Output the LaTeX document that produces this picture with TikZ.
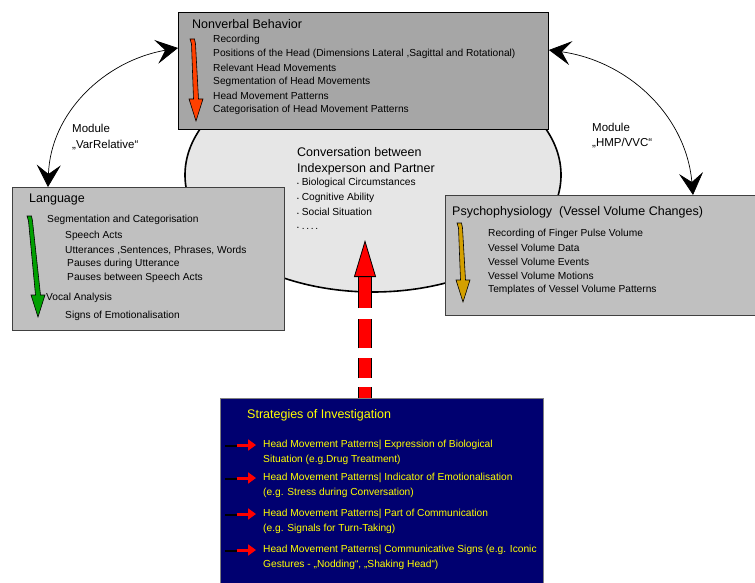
\documentclass[tikz,border=0pt]{standalone}
\usepackage{fontspec}
\setmainfont{Liberation Sans}
\usetikzlibrary{arrows.meta, shapes.geometric, positioning, calc}
\definecolor{PanelGray}{RGB}{166,166,166}
\definecolor{LightPanel}{RGB}{192,192,192}
\definecolor{CloudGray}{RGB}{230,230,230}
\definecolor{DeepNavy}{RGB}{0,0,112}
\definecolor{SignalRed}{RGB}{255,0,0}
\definecolor{FlowOrange}{RGB}{255,64,0}
\definecolor{FlowGreen}{RGB}{0,160,0}
\definecolor{FlowGold}{RGB}{212,160,0}
\definecolor{MarkYellow}{RGB}{255,255,0}

% hand drawn arrow beside a list: top x, top y, tip x, tip y, colour
\newcommand{\flowarrow}[5]{%
  \draw[fill=#5, draw=black, line width=0.6pt]
    (#1-3,#2) -- (#1+1.5,#2) -- (#1+2.5,#2+5) -- (#3+2.5,#4-22) -- (#3+7,#4-22)
    -- (#3,#4) -- (#3-7,#4-22) -- (#3-2.5,#4-22) -- (#1-1.5,#2+5) -- cycle;}

\begin{document}
\begin{tikzpicture}[x=1pt, y=-1pt, font=\fontsize{10.2}{14}\selectfont,
  panel/.style={draw=black!75, line width=0.9pt, anchor=north west, inner sep=0pt},
  paneltitle/.style={anchor=west, inner sep=0pt, font=\fontsize{12.5}{16}\selectfont},
  entry/.style={anchor=west, inner sep=0pt},
  twoline/.style={anchor=north west, inner sep=0pt, align=left},
  redgaps/.style={dash pattern=on 11pt off 9pt on 20pt off 10pt on 29pt off 11pt on 60pt},
  linkarrow/.style={line width=0.7pt,
    {Stealth[length=22pt, width=24pt, inset=9pt]}-{Stealth[length=22pt, width=24pt, inset=9pt]}}]
  \useasboundingbox (0,0) rectangle (755,583);

  % the conversation in the middle
  \node[ellipse, draw, line width=1.6pt, fill=CloudGray, minimum width=376pt,
    minimum height=234pt] (conv) at (373,175) {};
  \node[twoline, font=\fontsize{12.5}{16}\selectfont] (convhead) at (297,147)
    {Conversation between\\Indexperson and Partner};
  \node[twoline, font=\fontsize{10.2}{14.8}\selectfont] (convlist) at (297,178)
    {{\tiny•} Biological Circumstances\\{\tiny•} Cognitive Ability\\
     {\tiny•} Social Situation\\{\tiny•} .\,.\,.\,.};

  % the three panels
  \node[panel, fill=PanelGray, draw=black, minimum width=370pt, minimum height=117pt]
    (nvb) at (178,12) {};
  \node[panel, fill=LightPanel, minimum width=272pt, minimum height=143pt]
    (lang) at (12,187) {};
  \node[panel, fill=LightPanel, minimum width=312pt, minimum height=120pt]
    (psy) at (445,195) {};

  \node[paneltitle] (nvbtitle) at (192,24) {Nonverbal Behavior};
  \flowarrow{193}{39}{196}{121}{FlowOrange}
  \foreach \t [count=\k] in {Recording,
      {Positions of the Head (Dimensions Lateral ,Sagittal and Rotational)},
      Relevant Head Movements, Segmentation of Head Movements,
      Head Movement Patterns, Categorisation of Head Movement Patterns}
    \node[entry] (nv\k) at (213,26+14*\k) {\t};

  \node[paneltitle] (langtitle) at (29,199) {Language};
  \flowarrow{30}{216}{38}{317}{FlowGreen}
  \foreach \x/\y/\t [count=\k] in {47/220/Segmentation and Categorisation,
      65/236/Speech Acts, 65/250/{Utterances ,Sentences, Phrases, Words},
      67/264/Pauses during Utterance, 67/278/Pauses between Speech Acts,
      46/298/Vocal Analysis, 65/316/Signs of Emotionalisation}
    \node[entry] (lg\k) at (\x,\y) {\t};

  \node[paneltitle] (psytitle) at (452,212) {Psychophysiology\ \ (Vessel Volume Changes)};
  \flowarrow{460}{223}{463}{302}{FlowGold}
  \foreach \t [count=\k] in {Recording of Finger Pulse Volume, Vessel Volume Data,
      Vessel Volume Events, Vessel Volume Motions, Templates of Vessel Volume Patterns}
    \node[entry] (ps\k) at (488,220+14*\k) {\t};

  % modules between the panels
  \draw[linkarrow] ($(lang.north west)+(36,0)$) to[out=88, in=190] ($(nvb.north west)+(0,36)$);
  \draw[linkarrow] ($(nvb.north east)+(0,38)$) to[out=-8, in=95] ($(psy.north west)+(248,0)$);
  \node[twoline, font=\fontsize{11.5}{16}\selectfont] (modvar) at (72,124) {Module\\„VarRelative“};
  \node[twoline, font=\fontsize{11.5}{15}\selectfont] (modhmp) at (592,123) {Module\\„HMP/VVC“};

  % strategies
  \node[panel, fill=DeepNavy, draw=black!50, minimum width=323pt, minimum height=200pt]
    (inv) at (220,398) {};
  \node[paneltitle, text=MarkYellow] (invtitle) at (247,415) {Strategies of Investigation};
  \foreach \y/\t [count=\k] in {440/{Head Movement Patterns| Expression of Biological\\Situation (e.g.Drug Treatment)},
      473/{Head Movement Patterns| Indicator of Emotionalisation\\(e.g. Stress during Conversation)},
      509/{Head Movement Patterns| Part of Communication\\(e.g. Signals for Turn-Taking)},
      545/{Head Movement Patterns| Communicative Signs (e.g. Iconic\\Gestures - „Nodding“, „Shaking Head“)}}
  {
    \node[twoline, text=MarkYellow, font=\fontsize{10.2}{14.5}\selectfont] (st\k) at (263,\y) {\t};
    \draw[line width=1.2pt] ($(st\k.north west)+(-38,6)$) -- ($(st\k.north west)+(-20,6)$);
    \draw[SignalRed, line width=3pt, -{Triangle[length=8pt, width=11pt]}]
      ($(st\k.north west)+(-26,5)$) -- ($(st\k.north west)+(-7,5)$);
  }

  % investigation feeds the conversation
  \coordinate (aim) at (365,240);
  \draw[redgaps, line width=13.5pt, shorten >=36pt] (aim |- inv.north) -- (aim);
  \draw[redgaps, draw=SignalRed, line width=12pt,
    -{Triangle[length=37pt, width=22pt, color=black, fill=SignalRed, line width=0.8pt]}]
    (aim |- inv.north) -- (aim);
\end{tikzpicture}
\end{document}
